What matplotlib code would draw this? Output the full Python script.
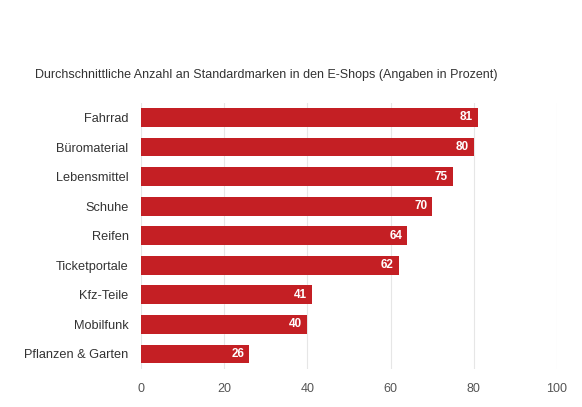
import matplotlib
matplotlib.use('Agg')
import matplotlib.pyplot as plt

plt.rcParams['font.family'] = ['Liberation Sans', 'DejaVu Sans']

categories = ['Fahrrad', 'Büromaterial', 'Lebensmittel', 'Schuhe', 'Reifen',
              'Ticketportale', 'Kfz-Teile', 'Mobilfunk', 'Pflanzen & Garten']
values = [81, 80, 75, 70, 64, 62, 41, 40, 26]
xticks = [0, 20, 40, 60, 80, 100]
title = 'Durchschnittliche Anzahl an Standardmarken in den E-Shops (Angaben in Prozent)'

bar_color = '#c41f24'

fig = plt.figure(figsize=(5.82, 4.07), dpi=100)
ax = fig.add_axes([0.2423, 0.0939, 0.7148, 0.6538])

y = range(len(categories))
ax.barh(y, values, height=0.64, color=bar_color, zorder=2)
for yi, v in zip(y, values):
    ax.text(v - 1.2, yi, str(v), ha='right', va='center', color='white',
            fontsize=8.5, fontweight='bold', zorder=3)

ax.set_xlim(0, 100)
ax.set_ylim(len(categories) - 0.5, -0.5)
ax.set_xticks(xticks)
ax.set_yticks(list(y))
ax.set_yticklabels(categories, fontsize=9.2, color='#333333')
ax.tick_params(axis='x', labelsize=9, labelcolor='#555555', length=0, pad=10)
ax.tick_params(axis='y', length=0, pad=9)
ax.grid(axis='x', color='#e6e6e6', linewidth=0.8, zorder=0)
for s in ax.spines.values():
    s.set_visible(False)

fig.text(35 / 582, 1 - 75 / 407, title, fontsize=9, color='#333333', va='center', ha='left')

fig.savefig('out.png', dpi=100)
